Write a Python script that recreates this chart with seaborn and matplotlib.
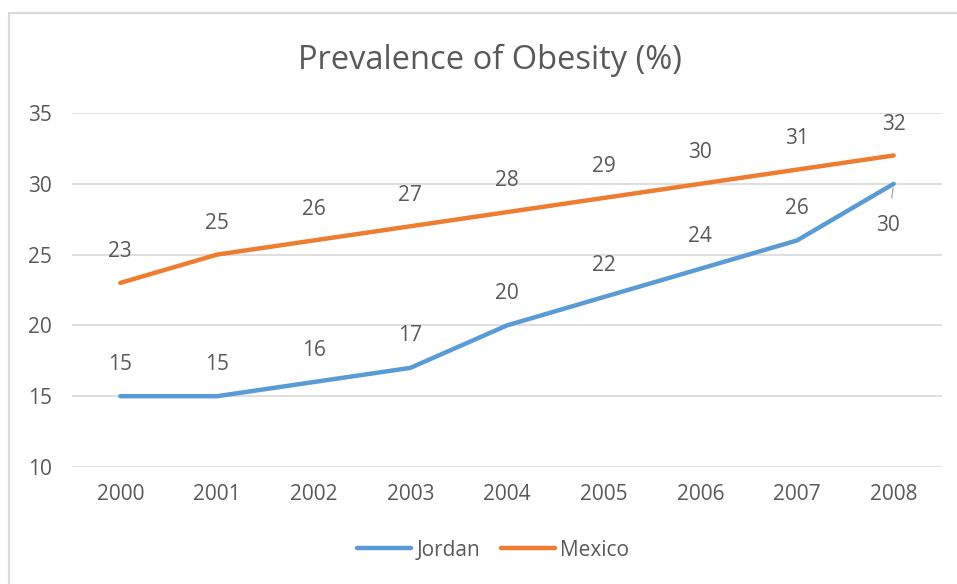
import matplotlib
matplotlib.use("Agg")
import matplotlib.pyplot as plt
import seaborn as sns
import pandas as pd
from matplotlib.lines import Line2D

years = [2000, 2001, 2002, 2003, 2004, 2005, 2006, 2007, 2008]
jordan = [15, 15, 16, 17, 20, 22, 24, 26, 30]
mexico = [23, 25, 26, 27, 28, 29, 30, 31, 32]
series_names = ["Jordan", "Mexico"]
colors = ["#5B9BD5", "#ED7D31"]
yticks = [10, 15, 20, 25, 30, 35]
title = "Prevalence of Obesity (%)"

df = pd.DataFrame({
    "Year": years * 2,
    "Value": jordan + mexico,
    "Country": [series_names[0]] * len(years) + [series_names[1]] * len(years),
})

sns.set_theme(style="white")
plt.rcParams["font.family"] = ["Open Sans", "DejaVu Sans"]
TXT = "#595959"
FS = 15

fig = plt.figure(figsize=(9.57, 5.84), dpi=100)
ax = fig.add_axes([72 / 957, 1 - 467 / 584, (942 - 72) / 957, (467 - 113) / 584])

sns.lineplot(data=df, x="Year", y="Value", hue="Country", palette=colors,
             linewidth=3.2, ax=ax, legend=False, solid_capstyle="round")

ax.set_xlim(years[0] - 0.5, years[-1] + 0.5)
ax.set_ylim(10, 35)
ax.set_yticks(yticks)
ax.set_xticks(years)
ax.set_xticklabels([str(y) for y in years])
ax.yaxis.grid(True, color="#D9D9D9", linewidth=1.2)
ax.xaxis.grid(False)
for s in ax.spines.values():
    s.set_visible(False)
ax.tick_params(axis="both", length=0, labelsize=FS, colors=TXT)
ax.tick_params(axis="x", pad=12)
ax.tick_params(axis="y", pad=14.5)
ax.set_xlabel("")
ax.set_ylabel("")

# data labels
for i, (x, v) in enumerate(zip(years, mexico)):
    ax.annotate(str(v), (x, v), xytext=(0, 22.5), textcoords="offset points",
                ha="center", va="center", fontsize=FS, color=TXT)
for i, (x, v) in enumerate(zip(years, jordan)):
    if i == len(years) - 1:
        ax.annotate(str(v), (x, v), xytext=(-4, -30), textcoords="offset points",
                    ha="center", va="center", fontsize=FS, color=TXT,
                    arrowprops=dict(arrowstyle="-", color="#A6A6A6", lw=0.9,
                                    shrinkA=10, shrinkB=3))
    else:
        ax.annotate(str(v), (x, v), xytext=(0, 23), textcoords="offset points",
                    ha="center", va="center", fontsize=FS, color=TXT)

fig.suptitle(title, x=490 / 957, y=1 - 60 / 584, va="center",
             fontsize=23.5, color=TXT)

handles = [Line2D([0], [0], color=c, lw=3.2, solid_capstyle="round") for c in colors]
fig.legend(handles, series_names, loc="center", bbox_to_anchor=(493 / 957, 1 - 550 / 584),
           ncol=2, frameon=False, fontsize=FS, labelcolor=TXT,
           handlelength=2.6, handletextpad=0.25, columnspacing=1.0)

# chart border (left and top visible)
bc = "#D9D9D9"
fig.add_artist(Line2D([9 / 957, 9 / 957], [0, 1 - 13 / 584], transform=fig.transFigure,
                      color=bc, lw=1.6))
fig.add_artist(Line2D([9 / 957, 1], [1 - 13 / 584, 1 - 13 / 584], transform=fig.transFigure,
                      color=bc, lw=1.6))

fig.savefig("out.png", dpi=100, facecolor="white")
